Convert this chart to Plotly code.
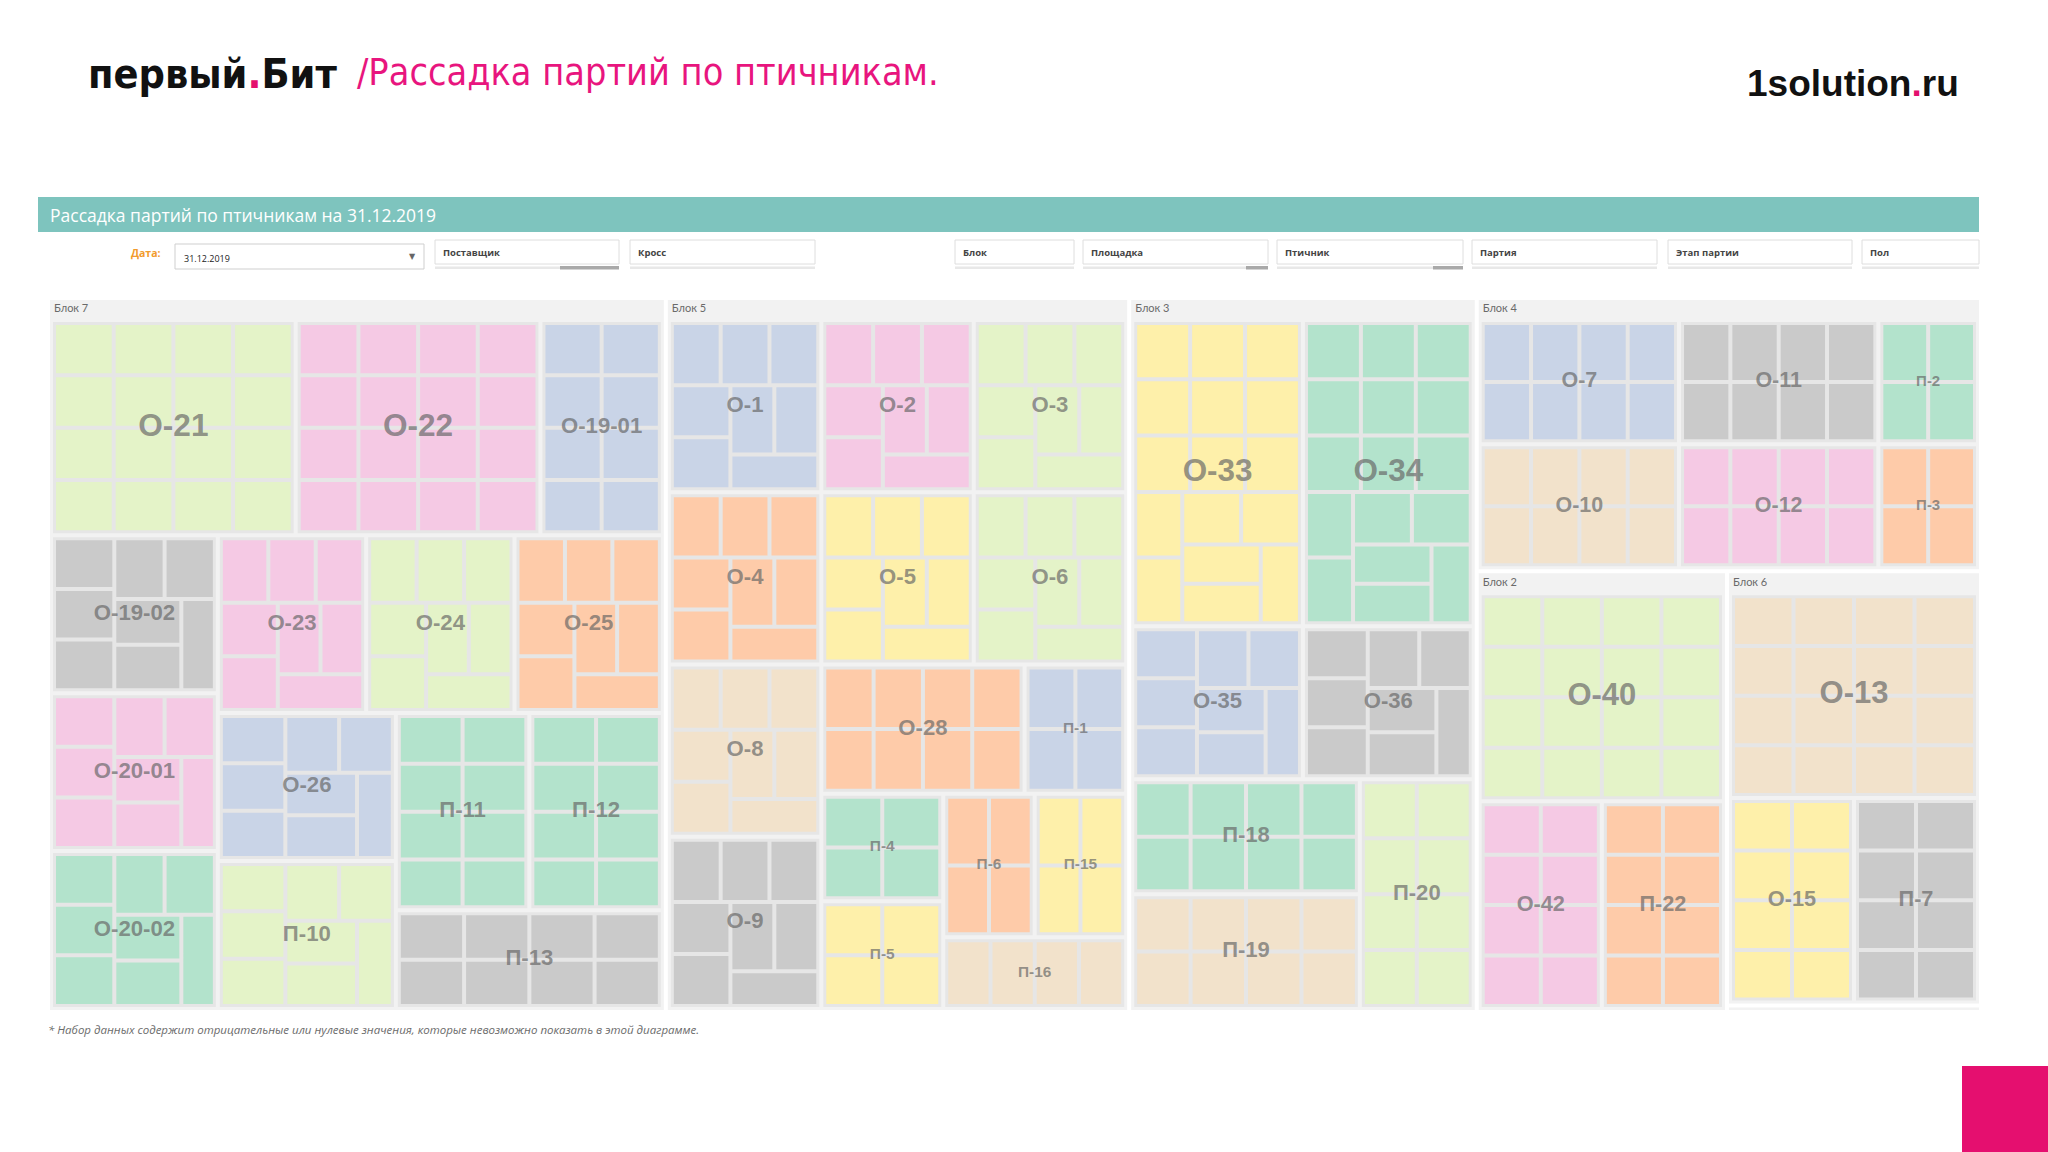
import math
import plotly.graph_objects as go

# ---------------- data ----------------
# blocks (in treemap order) -> parties (партии) -> houses (птичники)
block_names = ["Блок 7", "Блок 5", "Блок 3", "Блок 4", "Блок 2", "Блок 6", "Блок 1"]

b7_parties = ["О-21", "О-22", "О-19-01", "О-19-02", "О-20-01", "О-20-02", "О-23",
              "О-24", "О-25", "О-26", "П-10", "П-11", "П-12", "П-13"]
b7_houses = [16, 16, 8, 8, 8, 8, 8, 8, 8, 8, 8, 8, 8, 8]
b7_cross = ["A", "B", "C", "D", "B", "E", "B", "A", "F", "C", "A", "E", "E", "D"]

b5_parties = ["О-1", "О-2", "О-3", "О-4", "О-5", "О-6", "О-8", "О-9", "О-28",
              "П-1", "П-4", "П-5", "П-6", "П-15", "П-16"]
b5_houses = [8, 8, 8, 8, 8, 8, 8, 8, 8, 4, 4, 4, 4, 4, 4]
b5_cross = ["C", "B", "A", "F", "G", "A", "H", "D", "F", "C", "E", "G", "F", "G", "H"]

b3_parties = ["О-33", "О-34", "О-35", "О-36", "П-18", "П-19", "П-20"]
b3_houses = [16, 16, 8, 8, 8, 8, 8]
b3_cross = ["G", "E", "C", "D", "E", "H", "A"]

b4_parties = ["О-7", "О-10", "О-11", "О-12", "П-2", "П-3"]
b4_houses = [8, 8, 8, 8, 4, 4]
b4_cross = ["C", "H", "D", "B", "E", "F"]

b2_parties = ["О-40", "О-42", "П-22"]
b2_houses = [16, 8, 8]
b2_cross = ["A", "B", "F"]

b6_parties = ["О-13", "О-15", "П-7"]
b6_houses = [16, 8, 8]
b6_cross = ["H", "G", "D"]

b1_parties = ["П-8"]
b1_houses = [1]
b1_cross = ["D"]

# посадка на один птичник, тыс. голов (per block)
block_heads = [20.0, 20.0, 20.0, 20.0, 20.0, 20.0, 9.5]

filter_labels = ["Поставщик", "Кросс", "Блок", "Площадка", "Птичник", "Партия", "Этап партии", "Пол"]
report_title = "Рассадка партий по птичникам на 31.12.2019"
report_date = "31.12.2019"
footnote = "* Набор данных содержит отрицательные или нулевые значения, которые невозможно показать в этой диаграмме."

all_parties = [b7_parties, b5_parties, b3_parties, b4_parties, b2_parties, b6_parties, b1_parties]
all_houses = [b7_houses, b5_houses, b3_houses, b4_houses, b2_houses, b6_houses, b1_houses]
all_cross = [b7_cross, b5_cross, b3_cross, b4_cross, b2_cross, b6_cross, b1_cross]

# ---------------- style ----------------
cross_colors = {
    "A": "#e4f3c8",  # light green
    "B": "#f5c9e4",  # pink
    "C": "#c9d4e7",  # blue
    "D": "#cacaca",  # gray
    "E": "#b3e3cc",  # mint
    "F": "#fecba9",  # orange
    "G": "#fef0aa",  # yellow
    "H": "#f2e2cb",  # beige
}
PINK = "#e4106e"
ROOT_BOX = (50, 300, 1979, 1010)
BLOCK_GAP, PARTY_GAP, HOUSE_GAP = 4, 4, 4
BLOCK_PAD = (22, 3, 3, 3)  # top, left, right, bottom
PARTY_PAD = 3


# ---------------- squarified treemap layout ----------------
def squarify(vals, x0, y0, x1, y1):
    n = len(vals)
    rects = [None] * n
    value = float(sum(vals))
    i0 = 0
    while i0 < n:
        dx, dy = x1 - x0, y1 - y0
        i1 = i0
        s = vals[i1]
        i1 += 1
        mn = mx = s
        alpha = max(dy / dx, dx / dy) / value
        beta = s * s * alpha
        best = max(mx / beta, beta / mn)
        while i1 < n:
            v = vals[i1]
            s2 = s + v
            mn2, mx2 = min(mn, v), max(mx, v)
            beta = s2 * s2 * alpha
            r = max(mx2 / beta, beta / mn2)
            if r > best:
                break
            s, mn, mx, best = s2, mn2, mx2, r
            i1 += 1
        if dx < dy:
            yb = y0 + dy * s / value
            xx = x0
            for i in range(i0, i1):
                w = dx * vals[i] / s
                rects[i] = (xx, y0, xx + w, yb)
                xx += w
            y0 = yb
        else:
            xb = x0 + dx * s / value
            yy = y0
            for i in range(i0, i1):
                h = dy * vals[i] / s
                rects[i] = (x0, yy, xb, yy + h)
                yy += h
            x0 = xb
        value -= s
        i0 = i1
    return rects


def tile(vals, box, gap):
    h = gap / 2.0
    x0, y0, x1, y1 = box
    rs = squarify(vals, x0 - h, y0 - h, x1 + h, y1 + h)
    return [(a + h, b + h, c - h, d - h) for a, b, c, d in rs]


block_values = [sum(hs) * hd for hs, hd in zip(all_houses, block_heads)]
block_rects = tile(block_values, ROOT_BOX, BLOCK_GAP)

party_rects, party_labels, house_rects = [], [], {k: [] for k in cross_colors}
block_label_pts = []
for bi, brect in enumerate(block_rects):
    bx0, by0, bx1, by1 = brect
    inner = (bx0 + BLOCK_PAD[1], by0 + BLOCK_PAD[0], bx1 - BLOCK_PAD[2], by1 - BLOCK_PAD[3])
    if inner[3] - inner[1] < 10:
        continue
    block_label_pts.append((bx0 + 4, by0 + 4, block_names[bi]))
    pvals = [h * block_heads[bi] for h in all_houses[bi]]
    prs = tile(pvals, inner, PARTY_GAP)
    for pi, pr in enumerate(prs):
        party_rects.append(pr)
        px0, py0, px1, py1 = pr
        party_labels.append(((px0 + px1) / 2, (py0 + py1) / 2, px1 - px0, py1 - py0, all_parties[bi][pi]))
        pin = (px0 + PARTY_PAD, py0 + PARTY_PAD, px1 - PARTY_PAD, py1 - PARTY_PAD)
        hvals = [block_heads[bi]] * all_houses[bi][pi]
        for hr in tile(hvals, pin, HOUSE_GAP):
            house_rects[all_cross[bi][pi]].append(hr)


def poly(rects):
    xs, ys = [], []
    for (x0, y0, x1, y1) in rects:
        xs += [x0, x1, x1, x0, x0, None]
        ys += [y0, y0, y1, y1, y0, None]
    return xs, ys


fig = go.Figure()


def add_fill(rects, color):
    xs, ys = poly(rects)
    fig.add_trace(go.Scatter(x=xs, y=ys, mode="lines", fill="toself", fillcolor=color,
                             line=dict(width=0, color=color), hoverinfo="skip", showlegend=False))


add_fill(block_rects, "#f2f2f2")
add_fill(party_rects, "#e6e6e6")
for k, col in cross_colors.items():
    if house_rects[k]:
        add_fill(house_rects[k], col)

# party labels
lx, ly, lt, ls = [], [], [], []
for cx, cy, w, h, name in party_labels:
    fs = 0.14 * math.sqrt(w * h)
    fs = min(fs, 0.9 * w / (0.62 * len(name)))
    lx.append(cx); ly.append(cy); lt.append("<b>%s</b>" % name); ls.append(max(fs, 9))
fig.add_trace(go.Scatter(x=lx, y=ly, mode="text", text=lt, textposition="middle center",
                         textfont=dict(size=ls, color="rgba(100,100,100,0.68)",
                                       family="Liberation Sans, Arial, sans-serif"),
                         hoverinfo="skip", showlegend=False, cliponaxis=False))

# block labels
fig.add_trace(go.Scatter(x=[p[0] for p in block_label_pts], y=[p[1] for p in block_label_pts],
                         mode="text", text=[p[2] for p in block_label_pts], textposition="bottom right",
                         textfont=dict(size=11, color="#6a6a6a", family="Lato, Open Sans, sans-serif"),
                         hoverinfo="skip", showlegend=False, cliponaxis=False))

shapes = []
annotations = []


def rect(x0, y0, x1, y1, fill, line=None, lw=0):
    shapes.append(dict(type="rect", xref="x", yref="y", x0=x0, y0=y0, x1=x1, y1=y1,
                       fillcolor=fill, line=dict(color=line or fill, width=lw), layer="below"))


def text(x, y, s, size, color, family, xanchor="left", yanchor="middle"):
    annotations.append(dict(x=x, y=y, xref="x", yref="y", text=s, showarrow=False,
                            xanchor=xanchor, yanchor=yanchor,
                            font=dict(size=size, color=color, family=family)))


# header
text(86, 74, "<b>первый<span style='color:%s'>.</span>Бит</b>" % PINK, 41, "#111111",
     "DejaVu Sans Condensed, DejaVu Sans, sans-serif")
text(355, 72, "/Рассадка партий по птичникам.", 37.5, "#e8157e",
     "DejaVu Sans Condensed, DejaVu Sans, sans-serif")
text(1961, 83, "<b>1solution<span style='color:%s'>.</span>ru</b>" % PINK, 37, "#111111",
     "Liberation Sans, Arial, sans-serif", xanchor="right")

# teal title bar
rect(38, 197, 1979, 232, "#7ec4be")
text(48, 214.5, report_title, 17.5, "#ffffff", "Open Sans, sans-serif")

# filter row
text(163, 253, "<b>Дата:</b>", 10.5, "#f29b2c", "Open Sans, sans-serif", xanchor="right")
rect(175, 244, 424, 269, "#ffffff", "#cfcfcf", 1)
text(182, 258, report_date, 9, "#222222", "Open Sans, sans-serif")
text(412, 256, "▼", 8, "#666666", "DejaVu Sans, sans-serif", xanchor="center")

box_x0 = [435, 630, 955, 1083, 1277, 1472, 1668, 1862]
box_x1 = [619, 815, 1074, 1268, 1463, 1657, 1852, 1979]
box_ind = [59, 0, 0, 22, 30, 0, 0, 0]
for lab, a, b, ind in zip(filter_labels, box_x0, box_x1, box_ind):
    rect(a, 240, b, 264, "#ffffff", "#dedede", 1)
    rect(a, 266.5, b, 269, "#e8e8e8")
    if ind:
        rect(b - ind, 266, b, 269.5, "#a9a9a9")
    text(a + 6, 252, "<b>%s</b>" % lab, 9.5, "#444444", "Open Sans, sans-serif")

# footnote and corner square
text(46, 1029, "<i>%s</i>" % footnote, 11.5, "#6b6b6b", "Open Sans, sans-serif")
rect(1962, 1066, 2048, 1152, "#e50f6f")

fig.update_layout(
    width=2048, height=1152, margin=dict(l=0, r=0, t=0, b=0, pad=0),
    paper_bgcolor="#ffffff", plot_bgcolor="#ffffff",
    xaxis=dict(range=[0, 2048], visible=False, fixedrange=True, domain=[0, 1]),
    yaxis=dict(range=[1152, 0], visible=False, fixedrange=True, domain=[0, 1]),
    shapes=shapes, annotations=annotations, showlegend=False, hovermode=False,
)

fig.write_html("out.html")
